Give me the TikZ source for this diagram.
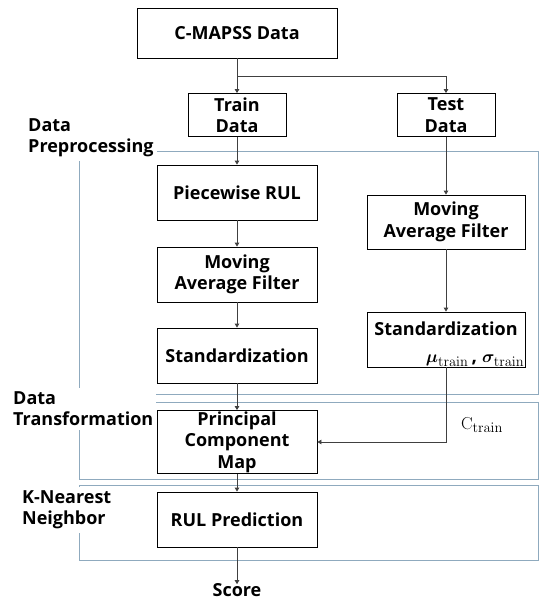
\documentclass[tikz,border=0pt]{standalone}
\usepackage{amsmath}
\usepackage{bm}
\usepackage[no-math]{fontspec}
\setmainfont{Open Sans}
\usetikzlibrary{arrows.meta}
\definecolor{framecol}{RGB}{143,170,190}
\definecolor{linecol}{RGB}{64,64,64}

\begin{document}
\begin{tikzpicture}[x=1pt, y=-1pt,
    blk/.style={draw, line width=0.8pt, align=center, inner sep=0pt, minimum width=160, minimum height=55, font=\fontsize{18}{21.5}\selectfont\bfseries},
    grp/.style={anchor=west, align=left, fill=white, inner xsep=3pt, inner ysep=4pt, font=\fontsize{18}{21}\selectfont\bfseries},
    frm/.style={draw=framecol, line width=0.9pt},
    arr/.style={draw=linecol, line width=0.8pt, -{Triangle[length=4pt, width=4.5pt]}}]
    \useasboundingbox (0,0) rectangle (542,603);
    % groups
    \draw[frm] (79,151) rectangle (538,394);
    \draw[frm] (79,402) rectangle (538,479);
    \draw[frm] (79,485) rectangle (538,560);
    \node[grp] (prep) at (25,137.5) {Data\\Preprocessing};
    \node[grp] (trans) at (10,409) {Data\\Transformation};
    \node[grp] (knn) at (19,510) {K-Nearest\\Neighbor};
    % blocks
    \node[blk, minimum width=200, minimum height=50] (cmapss) at (237,33) {C-MAPSS Data};
    \node[blk, minimum width=98, minimum height=43] (train) at (237,115) {Train\\Data};
    \node[blk, minimum width=98, minimum height=43] (test) at (446,115) {Test\\Data};
    \node[blk] (pwrul) at (237,192.5) {Piecewise RUL};
    \node[blk] (mafl) at (237,274.5) {Moving\\Average Filter};
    \node[blk] (stdl) at (237,355.5) {Standardization};
    \node[blk, minimum height=63] (pcm) at (237,442) {Principal\\Component\\Map};
    \node[blk] (rul) at (237,519.5) {RUL Prediction};
    \node[blk, minimum width=158, minimum height=54] (mafr) at (446,222) {Moving\\Average Filter};
    \node[blk, minimum width=158] (stdr) at (446,339.5) {};
    \node[font=\fontsize{18}{21}\selectfont\bfseries] (stdrt) at (446,329) {Standardization};
    \node[anchor=base east, inner sep=0pt, font=\fontsize{19}{21}\selectfont\bfseries] (stdrs) at ([shift={(-1,-5)}]stdr.south east) {$\bm{\mu}_{\mathrm{train}}$\,, $\bm{\sigma}_{\mathrm{train}}$};
    \node[font=\fontsize{19}{21}\selectfont] (ctrain) at (482,425) {$\mathrm{C}_{\mathrm{train}}$};
    \node[inner sep=1pt, font=\fontsize{18}{21}\selectfont\bfseries] (score) at (237,590) {Score};
    % connectors
    \coordinate (split) at (237,76);
    \draw[draw=linecol, line width=0.8pt] (cmapss) -- (split);
    \draw[arr] (split) -- (train);
    \draw[arr] (split) -| (test);
    \draw[arr] (train) -- (pwrul);
    \draw[arr] (pwrul) -- (mafl);
    \draw[arr] (mafl) -- (stdl);
    \draw[arr] (stdl) -- (pcm);
    \draw[arr] (pcm) -- (rul);
    \draw[arr] (rul) -- ([yshift=-2pt]score.north);
    \draw[arr] (test) -- (mafr);
    \draw[arr] (mafr) -- (stdr);
    \draw[arr] (stdr) |- (pcm);
\end{tikzpicture}
\end{document}
